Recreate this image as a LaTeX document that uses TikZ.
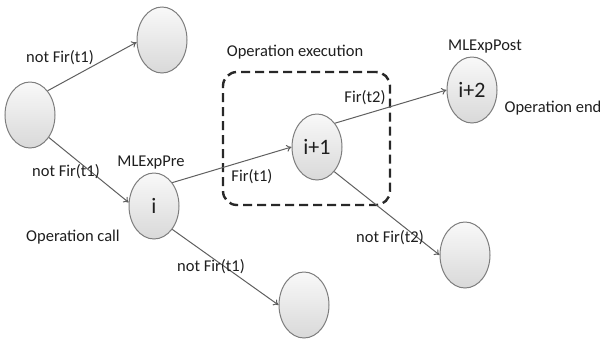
\documentclass[tikz,border=0pt]{standalone}
\usepackage{fontspec}
\setmainfont{Carlito}
\usetikzlibrary{arrows.meta,shapes.geometric}
\definecolor{edgecol}{RGB}{95,95,95}
\definecolor{nodeborder}{RGB}{125,125,125}
\definecolor{boxcol}{RGB}{40,40,40}
\definecolor{txtcol}{RGB}{30,30,30}
\tikzset{
  state/.style={ellipse, draw=nodeborder, line width=1pt, minimum width=50pt, minimum height=66pt,
    inner sep=0pt, top color=gray!5, bottom color=gray!30, text=txtcol,
    font=\fontsize{22}{24}\selectfont},
  lbl/.style={inner sep=0pt, text=txtcol, font=\fontsize{16.5}{18}\selectfont},
  trans/.style={draw=edgecol, line width=1pt, -{To[length=5pt,width=7pt]}},
  execbox/.style={draw=boxcol, line width=2.4pt, dash pattern=on 9pt off 5pt, rounded corners=14pt}
}
\begin{document}
\begin{tikzpicture}[x=1pt,y=-1pt]
\useasboundingbox (0,0) rectangle (604,341);
% dashed box
\node[execbox, minimum width=167pt, minimum height=133pt, inner sep=0pt] (box) at (306.5,138.5) {};
% states
\node[state] (A) at (162,40) {};
\node[state] (L) at (30,115) {};
\node[state] (i) at (154,206) {i};
\node[state] (i1) at (317,147) {i+1};
\node[state] (i2) at (472,90) {i+2};
\node[state] (B1) at (304,305) {};
\node[state] (B2) at (465,255) {};
% transitions
\draw[trans] (L.54) -- (A.185);
\draw[trans] (L.-50) -- (i.172);
\draw[trans] (i.52) -- (i1.180);
\draw[trans] (i1.53) -- (i2.180);
\draw[trans] (i1.-55) -- (B2.180);
\draw[trans] (i.-52) -- (B1.180);
% labels
\node[lbl] (l1) at (60,58) {not Fir(t1)};
\node[lbl] (l2) at (66,172) {not Fir(t1)};
\node[lbl] (pre) at (151,163) {MLExpPre};
\node[lbl] (l3) at (252,177) {Fir(t1)};
\node[lbl] (exec) at (295,52) {Operation execution};
\node[lbl] (l4) at (365,98) {Fir(t2)};
\node[lbl] (post) at (485,47) {MLExpPost};
\node[lbl] (oend) at (553,108) {Operation end};
\node[lbl] (ocall) at (73,237) {Operation call};
\node[lbl] (l5) at (211,267) {not Fir(t1)};
\node[lbl] (l6) at (390,238) {not Fir(t2)};
\end{tikzpicture}
\end{document}
